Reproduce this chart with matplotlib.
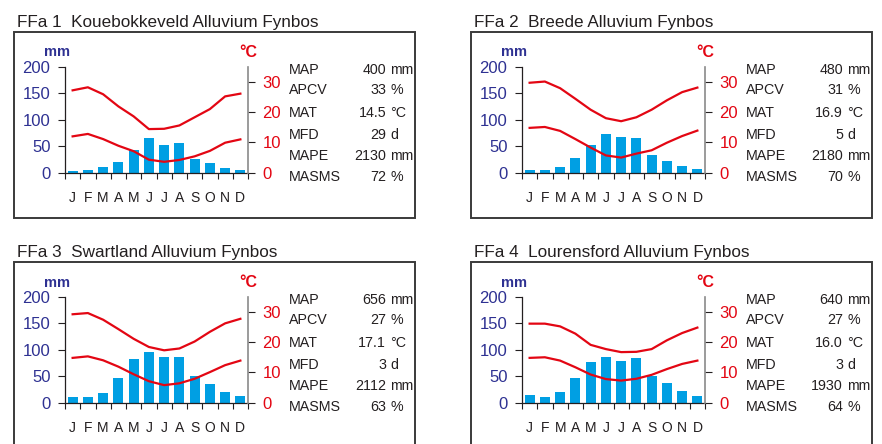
import matplotlib
matplotlib.use('Agg')
import matplotlib.pyplot as plt
from matplotlib import font_manager
from matplotlib.patches import Rectangle

plt.rcParams['font.family'] = ['Liberation Sans', 'DejaVu Sans']

months = ['J', 'F', 'M', 'A', 'M', 'J', 'J', 'A', 'S', 'O', 'N', 'D']
titles = ['FFa 1  Kouebokkeveld Alluvium Fynbos',
          'FFa 2  Breede Alluvium Fynbos',
          'FFa 3  Swartland Alluvium Fynbos',
          'FFa 4  Lourensford Alluvium Fynbos']

# monthly rainfall (mm)
rain_ffa1 = [3, 5, 11, 20, 43, 65, 52, 56, 26, 18, 9, 5]
rain_ffa2 = [5, 5, 10, 28, 53, 73, 67, 65, 33, 22, 12, 7]
rain_ffa3 = [10, 10, 18, 46, 82, 95, 86, 87, 50, 35, 21, 12]
rain_ffa4 = [14, 10, 20, 46, 76, 87, 78, 85, 51, 38, 23, 12]

# mean daily max / min temperature (deg C)
tmax_ffa1 = [27.2, 28.2, 25.9, 21.9, 18.6, 14.4, 14.5, 15.6, 18.3, 21.0, 25.2, 26.1]
tmin_ffa1 = [12.0, 12.8, 11.1, 8.9, 7.1, 4.3, 3.6, 4.2, 5.4, 7.2, 9.9, 11.0]
tmax_ffa2 = [29.7, 30.1, 27.9, 24.4, 20.8, 18.0, 17.0, 18.3, 20.8, 23.9, 26.6, 28.1]
tmin_ffa2 = [14.8, 15.1, 13.8, 11.1, 8.3, 5.7, 5.0, 6.3, 7.4, 9.9, 12.1, 13.9]
tmax_ffa3 = [29.2, 29.6, 27.4, 24.3, 21.1, 18.4, 17.3, 17.9, 20.2, 23.4, 26.2, 27.7]
tmin_ffa3 = [14.8, 15.3, 14.0, 11.9, 9.4, 7.1, 5.8, 6.4, 7.9, 10.1, 12.4, 13.9]
tmax_ffa4 = [26.1, 26.1, 25.2, 22.8, 19.1, 17.7, 16.7, 16.8, 17.7, 20.6, 23.0, 24.8]
tmin_ffa4 = [14.8, 15.0, 13.9, 11.7, 9.3, 7.8, 7.3, 7.9, 9.2, 11.1, 12.8, 13.9]

stat_labels = ['MAP', 'APCV', 'MAT', 'MFD', 'MAPE', 'MASMS']
stat_units = ['mm', '%', '°C', 'd', 'mm', '%']
stats_ffa1 = ['400', '33', '14.5', '29', '2130', '72']
stats_ffa2 = ['480', '31', '16.9', '5', '2180', '70']
stats_ffa3 = ['656', '27', '17.1', '3', '2112', '63']
stats_ffa4 = ['640', '27', '16.0', '3', '1930', '64']

rains = [rain_ffa1, rain_ffa2, rain_ffa3, rain_ffa4]
tmaxs = [tmax_ffa1, tmax_ffa2, tmax_ffa3, tmax_ffa4]
tmins = [tmin_ffa1, tmin_ffa2, tmin_ffa3, tmin_ffa4]
stats = [stats_ffa1, stats_ffa2, stats_ffa3, stats_ffa4]

W, H = 882, 444
BLUE = '#2E3192'
RED = '#E30613'
BAR = '#009FE3'
INK = '#231F20'

names = {f.name for f in font_manager.fontManager.ttflist}
if 'Liberation Sans Narrow' in names:
    narrow, stat_fs, month_fs = ['Liberation Sans Narrow', 'Liberation Sans'], 12.3, 12
else:
    narrow, stat_fs, month_fs = ['Liberation Sans', 'DejaVu Sans'], 10.3, 10


def fx(px):
    return px / W


def fy(py):
    return 1 - py / H


fig = plt.figure(figsize=(W / 100, H / 100), dpi=100)

offsets = [(0, 0), (457, 0), (0, 230), (457, 230)]
for i, (dx, dy) in enumerate(offsets):
    # frame and title
    fig.add_artist(Rectangle((fx(14 + dx), fy(217.5 + dy)), 401 / W, 185.5 / H,
                             transform=fig.transFigure, fill=False, lw=1.4, ec='#3a3a3a'))
    fig.text(fx(17 + dx), fy(26.7 + dy), titles[i], fontsize=12.3, color=INK, va='baseline')

    ax = fig.add_axes([fx(65 + dx), fy(172.7 + dy), (248 - 65) / W, (172.7 - 66.7) / H])
    x = [m + 0.5 for m in range(12)]
    ax.bar(x, rains[i], width=0.66, color=BAR, zorder=2)
    ax.set_xlim(0, 12)
    ax.set_ylim(0, 200)
    ax.set_yticks([0, 50, 100, 150, 200])
    ax.tick_params(axis='y', direction='out', length=5, width=0.8, colors=INK,
                   labelcolor=BLUE, labelsize=12, pad=5.5)
    ax.set_xticks(range(13))
    ax.set_xticklabels([])
    ax.tick_params(axis='x', which='major', direction='out', length=4, width=0.8, colors=INK)
    ax.set_xticks(x, minor=True)
    ax.set_xticklabels(months, minor=True, fontsize=month_fs, color=INK, family=narrow)
    ax.tick_params(axis='x', which='minor', length=0, pad=13)
    for s in ['top', 'right']:
        ax.spines[s].set_visible(False)
    ax.spines['left'].set_color(INK)
    ax.spines['left'].set_linewidth(0.9)
    ax.spines['bottom'].set_color(INK)
    ax.spines['bottom'].set_linewidth(0.9)
    ax.patch.set_visible(False)

    ax2 = ax.twinx()
    ax2.plot(x, tmaxs[i], color=RED, lw=1.6, solid_joinstyle='round', zorder=3)
    ax2.plot(x, tmins[i], color=RED, lw=1.6, solid_joinstyle='round', zorder=3)
    ax2.set_ylim(0, 35)
    ax2.set_yticks([0, 10, 20, 30])
    ax2.tick_params(axis='y', direction='out', length=5, width=0.8, colors=INK,
                    labelcolor=RED, labelsize=12, pad=5.5)
    for s in ['top', 'left', 'bottom']:
        ax2.spines[s].set_visible(False)
    ax2.spines['right'].set_color('#8a8a8a')
    ax2.spines['right'].set_linewidth(1.2)

    fig.text(fx(56.7 + dx), fy(56.5 + dy), 'mm', fontsize=10.5, fontweight='bold',
             color=BLUE, ha='center', va='baseline')
    fig.text(fx(248 + dx), fy(57 + dy), '°C', fontsize=11.5, fontweight='bold',
             color=RED, ha='center', va='baseline')

    # climate summary
    rows = [74.1, 94.4, 117.1, 139.4, 160.0, 181.0]
    for lab, val, unit, yb in zip(stat_labels, stats[i], stat_units, rows):
        fig.text(fx(289.3 + dx), fy(yb + dy), lab, fontsize=stat_fs, color=INK,
                 family=narrow, va='baseline')
        fig.text(fx(386 + dx), fy(yb + dy), val, fontsize=stat_fs, color=INK,
                 family=narrow, va='baseline', ha='right')
        ufs = 10 if unit == 'mm' else stat_fs
        fig.text(fx(390.5 + dx), fy(yb + dy), unit, fontsize=ufs, color=INK,
                 family=narrow if unit != 'mm' else None, va='baseline')

fig.savefig('out.png', dpi=100)
